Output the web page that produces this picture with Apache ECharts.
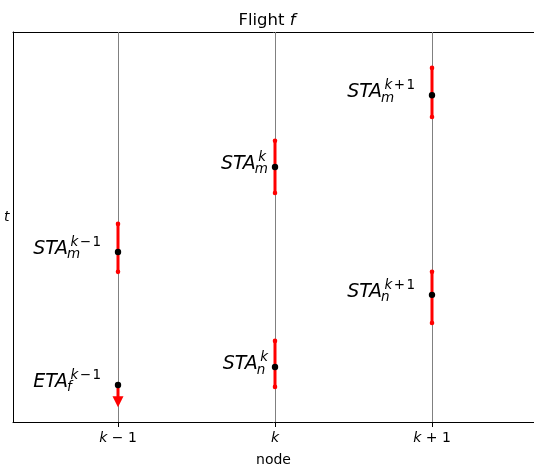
<!DOCTYPE html>
<html><head><meta charset="utf-8">
<script src="https://cdn.jsdelivr.net/npm/echarts@6/dist/echarts.min.js"></script>
<style>html,body{margin:0;padding:0;background:#fff}#c{width:534px;height:472px}</style>
</head><body><div id="c"></div>
<script>
// ---- data ----
const nodeValues = [-1, 0, 1];
const nodeLabels = ['k − 1', 'k', 'k + 1'];   // italic k in render
const nodeSup = ['k\u200A−\u200A1', 'k', 'k\u200A+\u200A1'];
const markNode   = [-1, -1, 0, 0, 1, 1];
const markCenter = [43.6, 9.5, 65.4, 14.1, 83.8, 32.6];
const markLow    = [38.5, 3.8, 58.7, 9.0, 78.2, 25.4];
const markHigh   = [50.8, 9.5, 72.1, 20.8, 90.8, 38.5];
const markKind   = ['bar', 'arrow', 'bar', 'bar', 'bar', 'bar'];
const markName   = ['STA', 'ETA', 'STA', 'STA', 'STA', 'STA'];
const markSub    = ['m', 'f', 'm', 'n', 'm', 'n'];

// ---- styles ----
const FONT = '"DejaVu Sans", sans-serif';
const MAIN_SIZE = 19, SCRIPT_SIZE = 13.5;
const RED = '#ff0000';
const ctx = document.createElement('canvas').getContext('2d');
function tw(txt, size, italic) { ctx.font = (italic ? 'italic ' : '') + size + 'px ' + FONT; return ctx.measureText(txt).width; }

function supRich(s) { return '{i|k}' + (s.length > 1 ? '{u|' + s.slice(1) + '}' : ''); }

const chart = echarts.init(document.getElementById('c'), null, { renderer: 'canvas' });
const data = markNode.map((n, i) => [n, markCenter[i], markLow[i], markHigh[i], i]);

const option = {
  animation: false,
  title: {
    text: 'Flight {i|f}', left: 'center', top: 7,
    textStyle: { fontFamily: FONT, fontSize: 16.5, fontWeight: 'normal', color: '#000',
      rich: { i: { fontFamily: FONT, fontSize: 16.5, fontStyle: 'italic', color: '#000' } } }
  },
  grid: { left: 13, right: 0, top: 32, bottom: 50, show: false },
  xAxis: [{
    type: 'value', min: -1.6688, max: 1.6497, position: 'bottom',
    axisLine: { show: true, onZero: false, lineStyle: { color: '#000', width: 1 } },
    axisTick: { show: true, customValues: nodeValues, length: 5, lineStyle: { color: '#000' } },
    axisLabel: { show: true, customValues: nodeValues, margin: 9, color: '#000', fontFamily: FONT, fontSize: 14,
      formatter: v => { const i = nodeValues.indexOf(Math.round(v)); const t = nodeLabels[i];
        return '{i|k}' + (t.length > 1 ? '{u|' + t.slice(1) + '}' : ''); },
      rich: { i: { fontStyle: 'italic', fontFamily: FONT, fontSize: 14, color: '#000' },
              u: { fontFamily: FONT, fontSize: 14, color: '#000' } } },
    splitLine: { show: false },
    name: 'node', nameLocation: 'middle', nameGap: 31,
    nameTextStyle: { fontFamily: FONT, fontSize: 14, color: '#000', verticalAlign: 'top' }
  }, {
    type: 'value', min: -1.6688, max: 1.6497, position: 'top',
    axisLine: { show: true, onZero: false, lineStyle: { color: '#000', width: 1 } },
    axisTick: { show: false }, axisLabel: { show: false }, splitLine: { show: false }
  }],
  yAxis: {
    type: 'value', min: 0, max: 100,
    axisLine: { show: true, onZero: false, lineStyle: { color: '#000', width: 1 } },
    axisTick: { show: false }, axisLabel: { show: false }, splitLine: { show: false }
  },
  graphic: [{ type: 'text', left: 4, top: 210,
    style: { text: 't', font: 'italic 14px ' + FONT, fill: '#000' } }],
  series: [{
    type: 'line', data: [], silent: true, z: 1,
    markLine: { silent: true, symbol: 'none', label: { show: false },
      lineStyle: { color: '#808080', width: 1, type: 'solid' },
      data: nodeValues.map(v => ({ xAxis: v })) }
  }, {
    type: 'custom', z: 5, data: data,
    encode: { x: 0, y: 1 },
    renderItem: (params, api) => {
      const i = api.value(4);
      const x = api.value(0);
      const pc = api.coord([x, api.value(1)]);
      const pl = api.coord([x, api.value(2)]);
      const ph = api.coord([x, api.value(3)]);
      const ch = [];
      if (markKind[i] === 'bar') {
        ch.push({ type: 'line', shape: { x1: pl[0], y1: pl[1], x2: ph[0], y2: ph[1] }, style: { stroke: RED, lineWidth: 3 } });
        ch.push({ type: 'circle', shape: { cx: pl[0], cy: pl[1], r: 2.3 }, style: { fill: RED } });
        ch.push({ type: 'circle', shape: { cx: ph[0], cy: ph[1], r: 2.3 }, style: { fill: RED } });
      } else {
        const head = 11;
        ch.push({ type: 'line', shape: { x1: pc[0], y1: pc[1], x2: pl[0], y2: pl[1] - head + 1 }, style: { stroke: RED, lineWidth: 3 } });
        ch.push({ type: 'polygon', shape: { points: [[pl[0] - 5.5, pl[1] - head], [pl[0] + 5.5, pl[1] - head], [pl[0], pl[1]]] }, style: { fill: RED } });
      }
      ch.push({ type: 'circle', shape: { cx: pc[0], cy: pc[1], r: 3.2 }, style: { fill: '#000' }, z2: 10 });
      // label
      const col = nodeValues.indexOf(x);
      const sup = nodeSup[col];
      const mainW = tw(markName[i], MAIN_SIZE, true);
      const supW = tw('k', SCRIPT_SIZE, true) + (sup.length > 1 ? tw(sup.slice(1), SCRIPT_SIZE, false) : 0);
      const subW = tw(markSub[i], SCRIPT_SIZE, true);
      const gap = sup.length > 1 ? 17 : 7;
      const supOff = 2.5, subOff = -1;
      const totalRight = mainW + Math.max(supOff + supW, subOff + subW);
      const left = pc[0] - gap - totalRight;
      const X0 = left + mainW;
      ch.push({ type: 'text', x: left, y: pc[1] - 3, style: { text: markName[i], font: 'italic ' + MAIN_SIZE + 'px ' + FONT, fill: '#000', align: 'left', verticalAlign: 'middle' } });
      ch.push({ type: 'text', x: X0 + supOff, y: pc[1] - 9.5, style: { text: supRich(sup), align: 'left', verticalAlign: 'middle', fill: '#000',
        rich: { i: { fontFamily: FONT, fontSize: SCRIPT_SIZE, fontStyle: 'italic', fill: '#000' }, u: { fontFamily: FONT, fontSize: SCRIPT_SIZE, fill: '#000' } } } });
      ch.push({ type: 'text', x: X0 + subOff, y: pc[1] + 3, style: { text: markSub[i], font: 'italic ' + SCRIPT_SIZE + 'px ' + FONT, fill: '#000', align: 'left', verticalAlign: 'middle' } });
      return { type: 'group', children: ch };
    }
  }]
};
chart.setOption(option);
</script></body></html>
